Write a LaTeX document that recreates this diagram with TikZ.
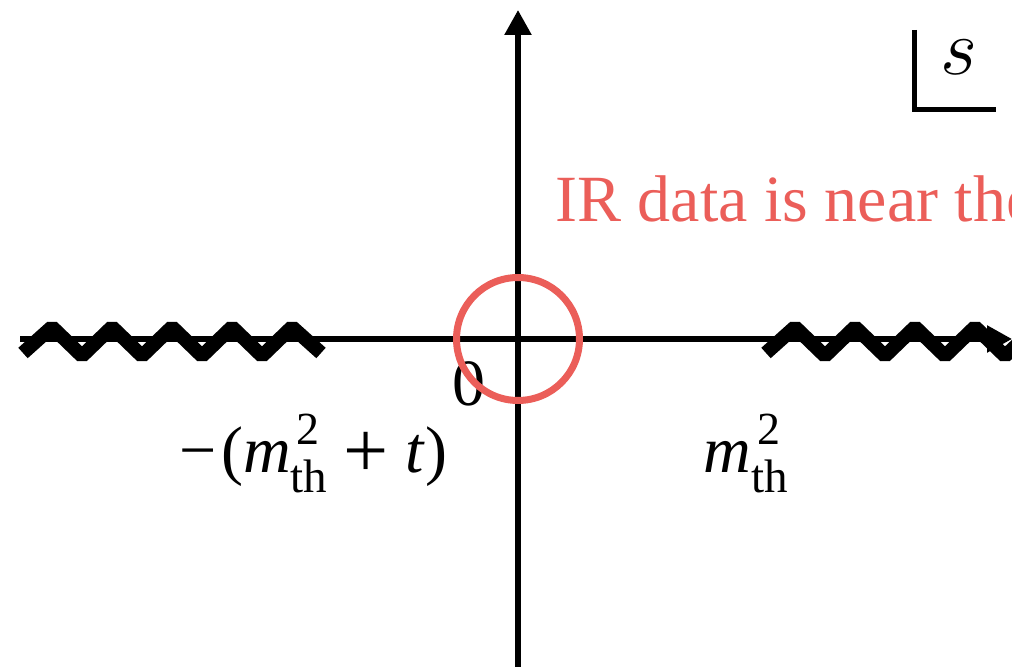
\RequirePackage{fix-cm}
\documentclass[tikz,border=0pt]{standalone}
\usepackage{fontspec}
\setmainfont{Liberation Serif}
\usetikzlibrary{arrows.meta}
\definecolor{irred}{RGB}{235,94,89}
\newcommand\supsz[1]{\mbox{\fontsize{23}{25}\selectfont #1}}
\newcommand\subsz[1]{\mbox{\fontsize{23.5}{25}\selectfont #1}}
\newcommand\mth{\textit{m}\rlap{\hspace{0.09em}\raisebox{0.43em}{\supsz{2}}}\raisebox{-0.29em}{\subsz{th}}}
\newcommand\bigplus{\raisebox{-2.2pt}{\fontsize{40}{40}\selectfont +}}
\begin{document}
\begin{tikzpicture}[x=0.5pt,y=-0.5pt,
  axis/.style={line width=2.75pt, -{Triangle[length=12.5pt,width=13pt]}},
  cut/.style={line width=7pt, line join=bevel},
  lbl/.style={inner sep=0pt, anchor=base west, font=\fontsize{33}{38}\selectfont}]
\useasboundingbox (0,0) rectangle (1012,667);
% axes
\coordinate (xl) at (20,339);
\coordinate (xr) at (1012,339);
\coordinate (yb) at (518,667);
\coordinate (yt) at (518,10);
\coordinate (O) at (518,339);
\draw[axis] (xl) -- (xr);
\draw[axis] (yb) -- (yt);
% branch cuts
\draw[cut] (23,353) -- (52,327) -- (82,356) -- (112,327) -- (142,356) -- (172,327)
  -- (202,356) -- (232,327) -- (262,356) -- (292,327) -- (321,353);
\draw[cut] (766,353) -- (795,327) -- (825,356) -- (855,327) -- (885,356) -- (915,327)
  -- (945,356) -- (975,327) -- (1005,356) -- (1020,342);
% labels
\node[lbl] (zero) at (452,406) {0};
\node[lbl] (lcut) at (179,473) {−\hspace{0.07em}(\mth\hspace{0.24em}\bigplus\hspace{0.26em}\textit{t})};
\node[lbl] (rcut) at (703,473) {\mth};
\node[lbl, text=irred] (ir) at (555,222) {IR data is near the};
% circle
\node[circle, draw=irred, line width=3.5pt, minimum size=61.5pt, inner sep=0pt] (circ) at (O) {};
% s box
\draw[line width=2.5pt] (914.5,30) -- (914.5,109.5) -- (996,109.5);
\node[inner sep=0pt, anchor=base west, font=\fontsize{40}{44}\selectfont] (s) at (940,75) {$s$};
\end{tikzpicture}
\end{document}
